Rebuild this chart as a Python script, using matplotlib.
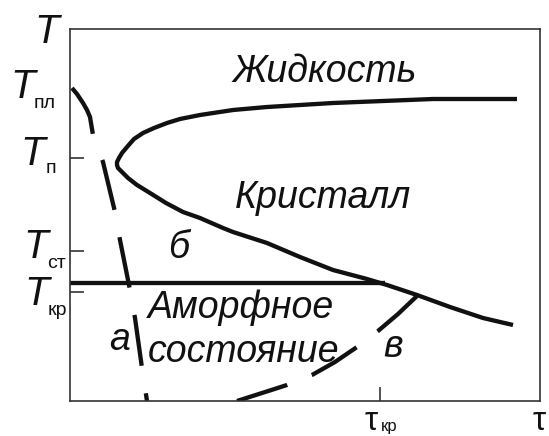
import matplotlib
matplotlib.use("Agg")
import matplotlib.pyplot as plt

plt.rcParams['lines.scale_dashes'] = False
FONT = 'Liberation Sans'

# Crystallisation C-curve (x: time, y: temperature), in chart units
c_curve_x = [447, 410, 363, 313, 263, 230, 197, 163, 130, 110, 97, 84, 73, 64, 57, 52, 49, 47, 47, 48, 50, 53, 58, 67, 80, 96, 113, 130, 153, 163, 197, 230, 263, 297, 317, 347, 380, 413, 443]
c_curve_y = [302, 302, 302, 300, 298, 296, 294, 291, 286, 282, 278, 273, 268, 262, 254, 248, 243, 239, 236, 233, 231, 228, 223, 216, 208, 198, 189, 183, 173, 169, 158, 144, 131, 122, 116, 106, 94, 83, 76]

# Critical-temperature line
glass_line_x = [0, 315]
glass_line_y = [118, 118]

# Cooling curves а and в
curve_a_x = [2, 7, 13, 17, 20, 23, 28, 33, 39, 45, 50, 55, 60, 65, 72, 77]
curve_a_y = [313, 307, 298, 291, 284, 266, 253, 239, 214, 189, 161, 136, 111, 83, 33, 0]

curve_v_x = [167, 192, 217, 242, 265, 287, 308, 328, 347]
curve_v_y = [0, 8, 16, 26, 39, 54, 70, 87, 105]

# Characteristic temperatures and critical time
T_pl, T_p, T_st, T_kr = 313, 243, 150, 109
tau_kr = 310

fig = plt.figure(figsize=(5.49, 4.36), dpi=100)
ax = fig.add_axes([70 / 549, 35 / 436, 470 / 549, 372 / 436])
ax.set_xlim(0, 470)
ax.set_ylim(0, 372)
for s in ax.spines.values():
    s.set_color('#333333')
    s.set_linewidth(1.2)

ax.set_xticks([tau_kr])
ax.set_yticks([T_p, T_st, T_kr])
ax.tick_params(axis='both', direction='in', length=10, width=1.2, color='#333333',
               labelleft=False, labelbottom=False)

lw = 3.1
ax.plot(c_curve_x, c_curve_y, color='#111111', lw=lw, solid_capstyle='butt', solid_joinstyle='round')
ax.plot(glass_line_x, glass_line_y, color='#111111', lw=lw, solid_capstyle='butt')
ax.plot(curve_a_x, curve_a_y, color='#111111', lw=lw, dashes=(37, 20), dash_capstyle='butt', dash_joinstyle='round')
ax.plot(curve_v_x, curve_v_y, color='#111111', lw=lw, dashes=(38, 19), dash_capstyle='butt', dash_joinstyle='round')

big = dict(fontfamily=FONT, fontstyle='italic', fontsize=29, color='#111111', clip_on=False)
sub = dict(fontfamily=FONT, fontsize=14, color='#111111', clip_on=False)

def label_T(x, y_base, subscript, sx, sy):
    ax.text(x, y_base, 'T', ha='left', va='baseline', **big)
    if subscript:
        ax.text(sx, sy, subscript, ha='left', va='baseline', **sub)

# Temperature labels on the y axis
label_T(-36, 358, '', 0, 0)
label_T(-60, 303, 'пл', -36, 293)
label_T(-50, 236, 'п', -24, 228)
label_T(-47, 143, 'ст', -23, 133)
label_T(-46, 96, 'кр', -22, 86)

# Time labels on the x axis
ax.text(tau_kr - 15, -29, 'τ', ha='left', va='baseline', fontfamily=FONT, fontsize=24, color='#111111', clip_on=False)
ax.text(tau_kr + 1, -30, 'кр', ha='left', va='baseline', fontfamily=FONT, fontsize=12, color='#111111', clip_on=False)
ax.text(463, -29, 'τ', ha='left', va='baseline', fontfamily=FONT, fontsize=24, color='#111111', clip_on=False)

region = dict(fontfamily=FONT, fontstyle='italic', fontsize=27, color='#111111')
ax.text(163, 319, 'Жидкость', ha='left', va='baseline', **region)
ax.text(165, 193, 'Кристалл', ha='left', va='baseline', **region)
ax.text(98, 143, 'б', ha='left', va='baseline', **region)
ax.text(78, 83, 'Аморфное', ha='left', va='baseline', **region)
ax.text(78, 39, 'состояние', ha='left', va='baseline', **region)
ax.text(39, 51, 'а', ha='left', va='baseline', **region)
ax.text(313, 44, 'в', ha='left', va='baseline', **region)

fig.savefig('out.png', dpi=100)
